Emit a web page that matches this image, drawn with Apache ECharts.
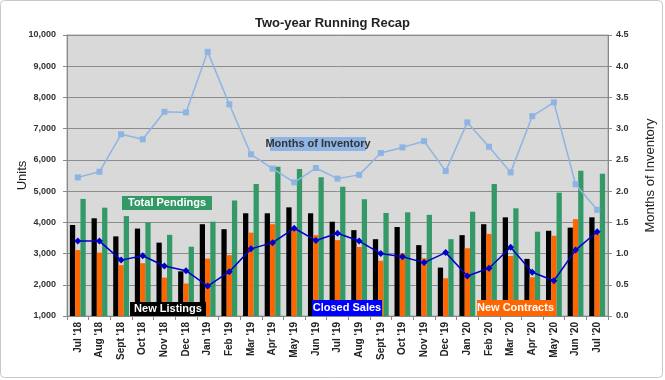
<!DOCTYPE html>
<html><head><meta charset="utf-8">
<script src="https://cdn.jsdelivr.net/npm/echarts@6/dist/echarts.min.js"></script>
<style>html,body{margin:0;padding:0;background:#fff}#c{width:665px;height:380px}</style>
</head><body><div id="c"></div>
<script>
var months = ["Jul '18","Aug '18","Sept '18","Oct '18","Nov '18","Dec '18","Jan '19","Feb '19","Mar '19","Apr '19","May '19","Jun '19","Jul '19","Aug '19","Sept '19","Oct '19","Nov '19","Dec '19","Jan '20","Feb '20","Mar '20","Apr '20","May '20","Jun '20","Jul '20"];
var newListings = [3915,4130,3550,3800,3350,2430,3940,3780,4290,4290,4480,4290,4020,3750,3460,3850,3270,2550,3590,3940,4160,2830,3730,3830,4160];
var newContracts = [3110,3030,2630,2690,2230,2040,2840,2950,3670,3940,3750,3590,3430,3210,2770,3010,2850,2210,3170,3630,2920,2240,3570,4100,3650];
var totalPendings = [4750,4470,4200,4000,3600,3220,4020,4700,5230,5780,5710,5440,5140,4740,4300,4320,4240,3460,4340,5230,4450,3700,4950,5650,5560];
var closedSales = [3400,3400,2790,2930,2600,2450,1960,2420,3150,3350,3810,3420,3650,3400,3000,2900,2710,3030,2280,2530,3200,2400,2130,3110,3700];
var monthsInventory = [2.22,2.31,2.91,2.83,3.27,3.26,4.23,3.39,2.59,2.36,2.14,2.37,2.20,2.26,2.61,2.70,2.80,2.32,3.10,2.71,2.30,3.20,3.42,2.11,1.70];

var FF = '"Liberation Sans", Arial, sans-serif';
var chart = echarts.init(document.getElementById('c'));
function box(x,y,w,h,fill,text,color){
  return [
    {type:'rect',z:100,shape:{x:x,y:y,width:w,height:h},style:{fill:fill}},
    {type:'text',z:101,style:{x:x+w/2,y:y+h/2,text:text,fill:color,font:'bold 11px '+FF,textAlign:'center',textVerticalAlign:'middle'}}
  ];
}
var graphics = [].concat(
  box(122,196,90,14,'#339966','Total Pendings','#fff'),
  box(270,137,96,14,'#8db4e2','Months of Inventory','#333'),
  box(130,302,76,14,'#000','New Listings','#fff'),
  box(312,300,70,16,'#0000ff','Closed Sales','#fff'),
  box(477,300,77,16,'#ff6600','New Contracts','#fff'),
  [{type:'rect',z:0,shape:{x:0.5,y:0.5,width:662,height:377,r:4},style:{fill:null,stroke:'#c8c8c8',lineWidth:1}}]
);
chart.setOption({
  animation:false,
  backgroundColor:'#fff',
  title:{text:'Two-year Running Recap',left:'center',top:12,textStyle:{fontFamily:FF,fontSize:13,fontWeight:'bold',color:'#222'}},
  grid:{left:67,right:52,top:35,bottom:64,show:true,backgroundColor:'#d9d9d9',borderColor:'#a6a6a6',borderWidth:1},
  xAxis:{type:'category',data:months,
    axisLine:{lineStyle:{color:'#888'}},
    axisTick:{show:true,lineStyle:{color:'#888'},length:4},
    axisLabel:{rotate:90,fontFamily:FF,fontSize:10,fontWeight:'bold',color:'#222',margin:6,interval:0}},
  yAxis:[
    {type:'value',min:1000,max:10000,interval:1000,name:'Units',nameLocation:'middle',nameGap:38,nameRotate:90,nameMoveOverlap:false,
     nameTextStyle:{fontFamily:FF,fontSize:13,color:'#222'},
     axisLine:{show:true,lineStyle:{color:'#888'}},axisTick:{show:true,length:4,lineStyle:{color:'#888'}},
     splitLine:{lineStyle:{color:'#8c8c8c',width:1}},
     axisLabel:{fontFamily:FF,fontSize:9,fontWeight:'bold',color:'#333',margin:11,
       formatter:function(v){return v.toLocaleString('en-US');}}},
    {type:'value',min:0,max:4.5,interval:0.5,name:'Months of Inventory',nameLocation:'middle',nameGap:36,nameRotate:90,nameMoveOverlap:false,
     nameTextStyle:{fontFamily:FF,fontSize:13,color:'#222'},
     axisLine:{show:true,lineStyle:{color:'#888'}},axisTick:{show:true,length:4,lineStyle:{color:'#888'}},
     splitLine:{show:false},
     axisLabel:{fontFamily:FF,fontSize:9,fontWeight:'bold',color:'#333',formatter:function(v){return v.toFixed(1);}}}
  ],
  series:[
    {name:'New Listings',type:'bar',data:newListings,itemStyle:{color:'#000'},barGap:'0%',barCategoryGap:'27%',z:2},
    {name:'New Contracts',type:'bar',data:newContracts,itemStyle:{color:'#ff6600'},z:2},
    {name:'Total Pendings',type:'bar',data:totalPendings,itemStyle:{color:'#339966'},z:2},
    {name:'Closed Sales',type:'line',data:closedSales,z:5,symbol:'diamond',symbolSize:7,
     lineStyle:{color:'#0000cc',width:1.5},itemStyle:{color:'#0000cc'}},
    {name:'Months of Inventory',type:'line',yAxisIndex:1,data:monthsInventory,z:4,symbol:'rect',symbolSize:6,
     lineStyle:{color:'#8db4e2',width:1.5},itemStyle:{color:'#8db4e2'}}
  ],
  graphic:graphics
});
</script></body></html>
